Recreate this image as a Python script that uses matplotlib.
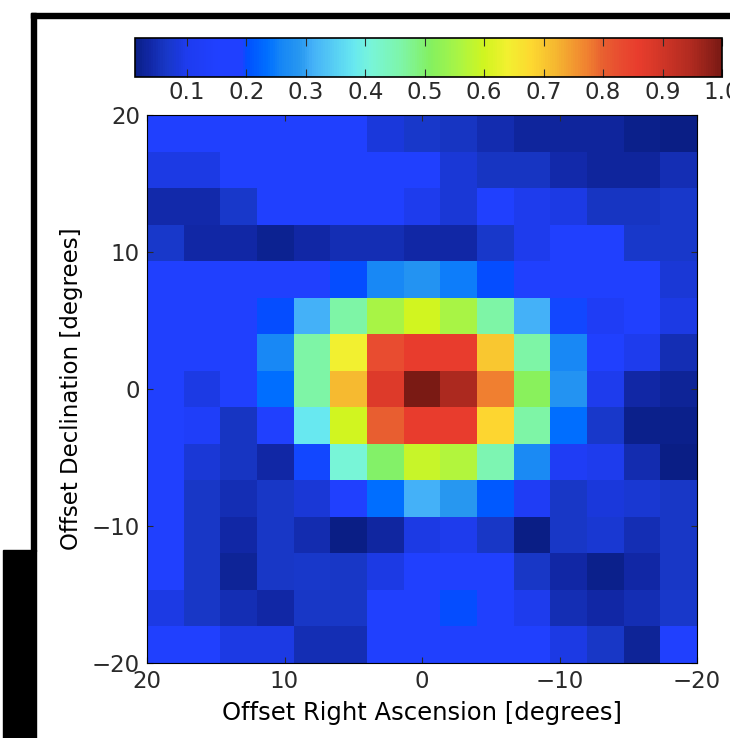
import matplotlib
matplotlib.use('Agg')
import matplotlib.pyplot as plt
import numpy as np
from matplotlib.colors import LinearSegmentedColormap, Normalize
from matplotlib.patches import Rectangle

# 15 x 15 map, rows from Dec +20 (top) to -20, columns from RA +20 (left) to -20
B = 0.15
POWER = np.array([
    [B, B, B, B, B, B, 0.085, 0.07, 0.06, 0.045, 0.03, 0.03, 0.028, 0.02, 0.0125],
    [0.09, 0.09, B, B, B, B, B, B, 0.08, 0.06, 0.06, 0.04, 0.028, 0.028, 0.05],
    [0.042, 0.042, 0.07, B, B, B, B, 0.1, 0.08, B, 0.1, 0.09, 0.06, 0.06, 0.07],
    [0.07, 0.038, 0.038, 0.022, 0.038, 0.05, 0.05, 0.038, 0.038, 0.07, 0.1, B, B, 0.07, 0.07],
    [B, B, B, B, B, 0.2, 0.26, 0.28, 0.25, 0.2, B, B, B, B, 0.08],
    [B, B, B, 0.2, 0.31, 0.46, 0.555, 0.6, 0.555, 0.46, 0.31, 0.195, 0.12, B, 0.09],
    [B, B, B, 0.26, 0.46, 0.64, 0.83, 0.86, 0.86, 0.70, 0.46, 0.26, B, 0.1, 0.05],
    [B, 0.09, B, 0.235, 0.46, 0.716, 0.88, 1.0, 0.95, 0.775, 0.515, 0.28, 0.1, 0.038, 0.025],
    [B, 0.13, 0.06, B, 0.38, 0.6, 0.8, 0.86, 0.86, 0.68, 0.46, 0.235, 0.07, 0.02, 0.02],
    [B, 0.08, 0.06, 0.038, 0.195, 0.41, 0.505, 0.59, 0.565, 0.45, 0.265, 0.12, 0.1, 0.045, 0.015],
    [B, 0.065, 0.05, 0.065, 0.08, B, 0.235, 0.31, 0.29, 0.21, 0.12, 0.065, 0.085, 0.075, 0.065],
    [B, 0.065, 0.038, 0.065, 0.045, 0.0125, 0.035, 0.09, 0.1, 0.065, 0.015, 0.065, 0.075, 0.05, 0.065],
    [B, 0.065, 0.025, 0.065, 0.07, 0.065, 0.09, B, B, B, 0.065, 0.038, 0.018, 0.038, 0.065],
    [0.09, 0.065, 0.05, 0.038, 0.065, 0.065, B, B, 0.2, B, 0.1, 0.05, 0.038, 0.05, 0.07],
    [B, B, 0.09, 0.09, 0.05, 0.05, B, B, B, B, B, 0.09, 0.065, 0.025, B],
])
EXTENT = 20.0
AXIS_TICKS = [-20, -10, 0, 10, 20]
CBAR_TICKS = [0.1, 0.2, 0.3, 0.4, 0.5, 0.6, 0.7, 0.8, 0.9, 1.0]
VMIN, VMAX = 0.0125, 1.0

# jet-like palette as it appears in the (washed out) original
CMAP_STOPS = [0.0125, 0.025, 0.038, 0.05, 0.065, 0.08, 0.10, 0.15, 0.19, 0.20,
              0.235, 0.26, 0.29, 0.31, 0.38, 0.41, 0.46, 0.51, 0.56, 0.60,
              0.64, 0.68, 0.72, 0.775, 0.80, 0.83, 0.86, 0.88, 0.95, 1.0]
CMAP_COLORS = ['#0A1E85', '#0E2498', '#1228A8', '#1530B8', '#1838C8', '#1A38D8',
               '#1E3CF0', '#2040FF', '#2040FF', '#0050FF', '#0070FF', '#1888F5',
               '#2898F0', '#44B0F8', '#68E8F0', '#78F5D8', '#7EF5A8', '#84F060',
               '#ACF542', '#D0F520', '#F2F030', '#FDD830', '#F5B830', '#F08030',
               '#E86030', '#E84C30', '#E83C2D', '#DD3A2A', '#B02A20', '#7A1A14']

plt.rcParams.update({
    'font.family': 'DejaVu Sans',
    'font.size': 16.5,
    'text.color': '#2a2a2a',
    'xtick.color': '#2a2a2a',
    'ytick.color': '#2a2a2a',
})

stops = [(s - VMIN) / (VMAX - VMIN) for s in CMAP_STOPS]
cmap = LinearSegmentedColormap.from_list('washed_jet', list(zip(stops, CMAP_COLORS)))

fig = plt.figure(figsize=(7.3, 7.38), dpi=100)

# scan frame around the figure
fig.patches.append(Rectangle((31 / 730, 720 / 738), 699 / 730, 5 / 738,
                             transform=fig.transFigure, color='black'))
fig.patches.append(Rectangle((31 / 730, 187 / 738), 5 / 730, 538 / 738,
                             transform=fig.transFigure, color='black'))
fig.patches.append(Rectangle((3 / 730, 0), 33 / 730, 188 / 738,
                             transform=fig.transFigure, color='black'))

ax = fig.add_axes([147 / 730, 75 / 738, 550 / 730, 548 / 738])
n_rows, n_cols = POWER.shape
x_edges = np.linspace(EXTENT, -EXTENT, n_cols + 1)
y_edges = np.linspace(EXTENT, -EXTENT, n_rows + 1)
mesh = ax.pcolormesh(x_edges, y_edges, POWER, cmap=cmap,
                     norm=Normalize(vmin=VMIN, vmax=VMAX))
ax.set_xlim(EXTENT, -EXTENT)
ax.set_ylim(-EXTENT, EXTENT)
ax.set_xticks(AXIS_TICKS)
ax.set_yticks(AXIS_TICKS)
ax.tick_params(direction='in', top=True, right=True, length=4, pad=5)
ax.set_xlabel('Offset Right Ascension [degrees]', fontsize=17.5, labelpad=6)
ax.set_ylabel('Offset Declination [degrees]', labelpad=6)

cax = fig.add_axes([135 / 730, 661 / 738, 587 / 730, 39 / 738])
cbar = fig.colorbar(mesh, cax=cax, orientation='horizontal', ticks=CBAR_TICKS)
cbar.ax.set_xticklabels([f'{t:.1f}' for t in CBAR_TICKS])
cbar.ax.tick_params(direction='in', top=True, bottom=True, length=6, pad=3)
cbar.outline.set_linewidth(1.2)

fig.savefig('out.png', dpi=100)
